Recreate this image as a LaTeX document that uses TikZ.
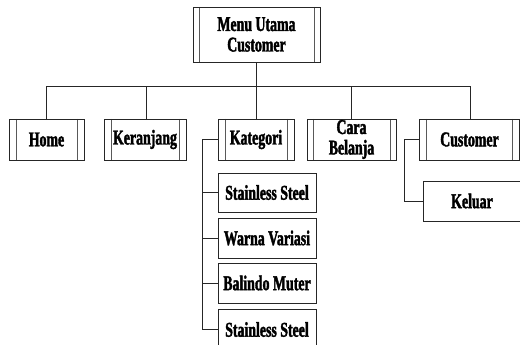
\documentclass[tikz,border=0pt]{standalone}
\usepackage{fontspec}
\newfontfamily\lblfont[FakeStretch=0.66,FakeBold=1.8]{Liberation Serif Bold}
\begin{document}
\begin{tikzpicture}[x=1pt,y=-1pt,
  ln/.style={line width=0.9pt,draw=black!85},
  lbl/.style={font=\lblfont\fontsize{21}{20.5}\selectfont,align=center,inner sep=0pt},
  box/.style={lbl,ln,rectangle,minimum width=#1,minimum height=40pt},
  dbl/.style 2 args={lbl,ln,rectangle,minimum width=#1,minimum height=41pt,
    path picture={\draw[line width=0.9pt,black!65] ([xshift=#2]path picture bounding box.north west) -- ([xshift=#2]path picture bounding box.south west);
      \draw[line width=0.9pt,black!65] ([xshift=-#2]path picture bounding box.north east) -- ([xshift=-#2]path picture bounding box.south east);}},
]
\useasboundingbox (0,0) rectangle (520,345);
\clip (0,0) rectangle (520,345);
\node[dbl={127pt}{6pt},minimum height=55pt] (top) at (256.5,34.5) {Menu Utama\\Customer};
\node[dbl={75pt}{7pt}] (home) at (46.5,139.5) {Home};
\node[dbl={82pt}{7pt}] (ker) at (145,139.5) {Keranjang};
\node[dbl={76pt}{7pt}] (kat) at (256,139.5) {Kategori};
\node[dbl={89pt}{6pt}] (cara) at (351.5,139.5) {Cara\\Belanja};
\node[dbl={100pt}{7pt}] (cust) at (469.5,139.5) {Customer};
\node[box=98pt,minimum height=39pt] (s1) at (267,192.5) {Stainless Steel};
\node[box=98pt] (s2) at (267,238) {Warna Variasi};
\node[box=98pt] (s3) at (267,283) {Balindo Muter};
\node[box=98pt,minimum height=41pt] (s4) at (267,329.5) {Stainless Steel};
\node[box=98pt] (kel) at (472,201) {Keluar};
\coordinate (bus) at (0,86);
\coordinate (kx) at (202,0);
\coordinate (cx) at (404,0);
\draw[ln] (top.south) -- (top.south |- bus);
\draw[ln] (home.north) -- (home.north |- bus) -- ([xshift=1pt]cust.north |- bus) -- ([xshift=1pt]cust.north);
\draw[ln] ([xshift=1pt]ker.north) -- ([xshift=1pt]ker.north |- bus);
\draw[ln] (kat.north) -- (kat.north |- bus);
\draw[ln] ([xshift=-0.5pt]cara.north) -- ([xshift=-0.5pt]cara.north |- bus);
\draw[ln] (kat.west) -| (kx |- s4.west) -- (s4.west);
\draw[ln] (kx |- s1.west) -- (s1.west);
\draw[ln] (kx |- s2.west) -- (s2.west);
\draw[ln] (kx |- s3.west) -- (s3.west);
\draw[ln] (cust.west) -| (cx |- kel.west) -- (kel.west);
\end{tikzpicture}
\end{document}
